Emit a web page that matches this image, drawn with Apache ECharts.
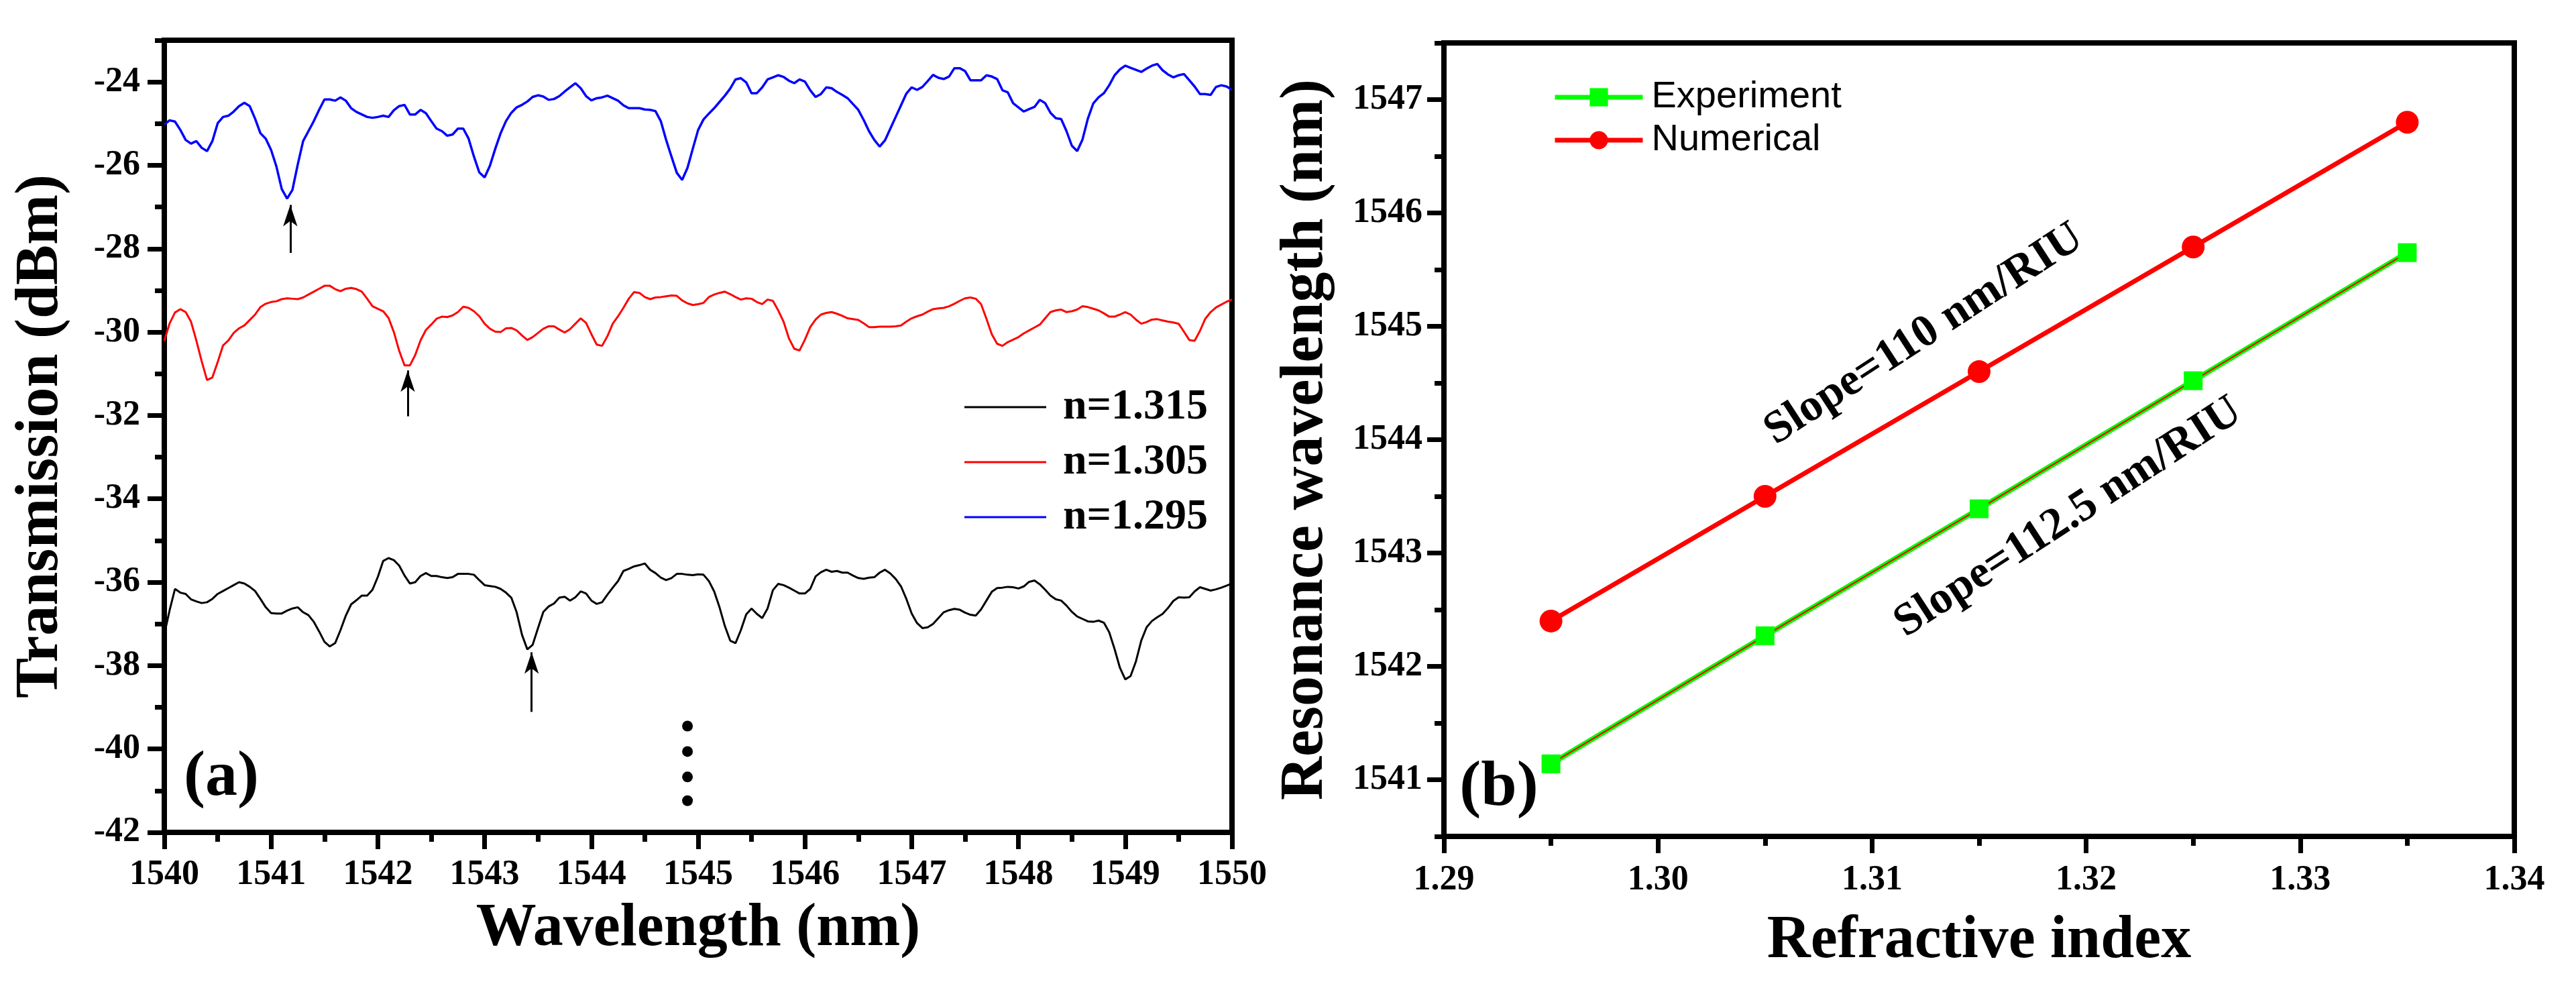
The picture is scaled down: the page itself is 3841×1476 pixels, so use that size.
<!DOCTYPE html>
<html>
<head>
<meta charset="utf-8">
<title>Transmission spectra and resonance shift</title>
<script src="https://cdn.jsdelivr.net/npm/echarts@6.0.0/dist/echarts.min.js"></script>
<style>
  html, body { margin: 0; padding: 0; background: #fff; }
  #chart { width: 3841px; height: 1476px; }
</style>
</head>
<body>
<div id="chart"></div>
<script>
// (a) spectra, sampled every 0.05 nm from 1540 nm
var wavelengthStart = 1540;
var wavelengthStep = 0.05;

var spectrum1315 = [
  -37.25,-36.67,-36.16,-36.25,-36.28,-36.41,-36.46,-36.50,-36.48,-36.40,
  -36.28,-36.21,-36.14,-36.07,-36.00,-36.03,-36.11,-36.21,-36.40,-36.60,
  -36.74,-36.75,-36.75,-36.68,-36.63,-36.60,-36.72,-36.79,-36.95,-37.18,
  -37.43,-37.54,-37.46,-37.15,-36.80,-36.53,-36.43,-36.32,-36.32,-36.18,
  -35.87,-35.49,-35.42,-35.47,-35.60,-35.84,-36.03,-36.00,-35.85,-35.78,
  -35.85,-35.85,-35.88,-35.90,-35.88,-35.80,-35.80,-35.80,-35.82,-35.95,
  -36.07,-36.09,-36.11,-36.16,-36.25,-36.37,-36.72,-37.26,-37.61,-37.50,
  -37.10,-36.71,-36.58,-36.51,-36.37,-36.35,-36.44,-36.36,-36.22,-36.27,
  -36.44,-36.52,-36.48,-36.30,-36.13,-35.97,-35.73,-35.68,-35.62,-35.59,
  -35.55,-35.70,-35.78,-35.89,-35.95,-35.90,-35.80,-35.80,-35.82,-35.83,
  -35.81,-35.82,-35.97,-36.22,-36.60,-37.05,-37.40,-37.46,-37.15,-36.77,
  -36.63,-36.76,-36.86,-36.63,-36.19,-36.04,-36.07,-36.13,-36.20,-36.27,
  -36.27,-36.16,-35.86,-35.76,-35.70,-35.75,-35.73,-35.77,-35.77,-35.84,
  -35.90,-35.92,-35.89,-35.88,-35.77,-35.70,-35.79,-35.92,-36.10,-36.40,
  -36.75,-36.98,-37.10,-37.08,-37.00,-36.86,-36.72,-36.67,-36.64,-36.66,
  -36.73,-36.78,-36.80,-36.65,-36.44,-36.23,-36.14,-36.13,-36.11,-36.12,
  -36.15,-36.10,-35.99,-35.96,-36.05,-36.18,-36.32,-36.41,-36.44,-36.56,
  -36.71,-36.82,-36.88,-36.94,-36.95,-36.92,-36.97,-37.20,-37.60,-38.05,
  -38.33,-38.25,-37.90,-37.40,-37.08,-36.93,-36.84,-36.76,-36.62,-36.45,
  -36.36,-36.37,-36.36,-36.22,-36.12,-36.16,-36.20,-36.17,-36.13,-36.08,
  -36.03
];

var spectrum1305 = [
  -30.21,-29.79,-29.53,-29.45,-29.52,-29.75,-30.20,-30.70,-31.15,-31.09,
  -30.72,-30.32,-30.20,-30.02,-29.91,-29.84,-29.71,-29.58,-29.40,-29.32,
  -29.28,-29.26,-29.21,-29.19,-29.20,-29.21,-29.17,-29.10,-29.03,-28.96,
  -28.89,-28.89,-28.97,-29.02,-28.96,-28.94,-28.97,-29.03,-29.20,-29.38,
  -29.44,-29.50,-29.66,-30.00,-30.45,-30.80,-30.80,-30.55,-30.20,-29.95,
  -29.82,-29.68,-29.63,-29.64,-29.60,-29.52,-29.39,-29.42,-29.50,-29.62,
  -29.80,-29.92,-29.99,-30.00,-29.91,-29.90,-29.96,-30.08,-30.19,-30.12,
  -30.02,-29.92,-29.86,-29.86,-29.94,-30.01,-29.93,-29.80,-29.67,-29.78,
  -30.05,-30.30,-30.33,-30.10,-29.80,-29.62,-29.42,-29.20,-29.04,-29.06,
  -29.16,-29.21,-29.17,-29.16,-29.14,-29.12,-29.13,-29.24,-29.31,-29.35,
  -29.33,-29.30,-29.16,-29.10,-29.06,-29.03,-29.09,-29.16,-29.22,-29.19,
  -29.20,-29.28,-29.33,-29.22,-29.25,-29.48,-29.75,-30.15,-30.40,-30.44,
  -30.18,-29.88,-29.70,-29.58,-29.54,-29.52,-29.56,-29.61,-29.67,-29.69,
  -29.71,-29.79,-29.88,-29.88,-29.87,-29.87,-29.87,-29.86,-29.84,-29.75,
  -29.67,-29.62,-29.58,-29.51,-29.45,-29.43,-29.42,-29.38,-29.32,-29.25,
  -29.19,-29.17,-29.20,-29.33,-29.68,-30.05,-30.28,-30.33,-30.24,-30.18,
  -30.12,-30.03,-29.96,-29.89,-29.82,-29.67,-29.52,-29.48,-29.46,-29.52,
  -29.50,-29.46,-29.38,-29.40,-29.44,-29.48,-29.55,-29.63,-29.63,-29.58,
  -29.52,-29.58,-29.70,-29.80,-29.76,-29.70,-29.69,-29.72,-29.75,-29.77,
  -29.80,-29.99,-30.19,-30.21,-29.97,-29.68,-29.52,-29.41,-29.34,-29.27,
  -29.22
];

var spectrum1295 = [
  -25.02,-24.92,-24.95,-25.15,-25.39,-25.48,-25.42,-25.58,-25.66,-25.42,
  -24.99,-24.84,-24.81,-24.71,-24.58,-24.50,-24.58,-24.88,-25.23,-25.36,
  -25.63,-26.03,-26.57,-26.80,-26.59,-25.98,-25.42,-25.18,-24.94,-24.67,
  -24.42,-24.42,-24.45,-24.37,-24.45,-24.63,-24.72,-24.78,-24.84,-24.86,
  -24.84,-24.81,-24.84,-24.68,-24.58,-24.55,-24.78,-24.78,-24.67,-24.75,
  -24.94,-25.12,-25.18,-25.29,-25.26,-25.12,-25.12,-25.36,-25.79,-26.17,
  -26.29,-26.01,-25.60,-25.23,-24.94,-24.74,-24.61,-24.55,-24.47,-24.36,
  -24.32,-24.35,-24.43,-24.41,-24.34,-24.23,-24.13,-24.03,-24.15,-24.34,
  -24.44,-24.39,-24.37,-24.33,-24.39,-24.45,-24.56,-24.63,-24.63,-24.63,
  -24.66,-24.67,-24.70,-24.94,-25.39,-25.79,-26.18,-26.35,-26.06,-25.60,
  -25.15,-24.90,-24.76,-24.63,-24.48,-24.33,-24.16,-23.94,-23.91,-24.01,
  -24.27,-24.27,-24.13,-23.94,-23.89,-23.84,-23.88,-23.97,-24.03,-23.94,
  -23.99,-24.20,-24.36,-24.29,-24.13,-24.15,-24.24,-24.31,-24.39,-24.53,
  -24.67,-24.91,-25.18,-25.39,-25.55,-25.40,-25.12,-24.84,-24.56,-24.28,
  -24.13,-24.19,-24.12,-23.98,-23.83,-23.90,-23.93,-23.87,-23.67,-23.67,
  -23.74,-23.96,-23.96,-23.96,-23.84,-23.87,-23.93,-24.20,-24.25,-24.51,
  -24.61,-24.71,-24.65,-24.60,-24.43,-24.51,-24.74,-24.87,-24.89,-25.18,
  -25.53,-25.66,-25.38,-24.88,-24.52,-24.37,-24.27,-24.08,-23.84,-23.70,
  -23.61,-23.66,-23.71,-23.76,-23.68,-23.61,-23.57,-23.72,-23.82,-23.89,
  -23.84,-23.81,-23.96,-24.11,-24.29,-24.29,-24.31,-24.12,-24.08,-24.11,
  -24.19
];

// arrows pointing at the tracked dips (x, tail, tip)
var arrowWavelength = [1541.18, 1542.28, 1543.44];
var arrowTail = [-28.10, -32.02, -39.11];
var arrowTip = [-26.95, -30.92, -37.68];

// vertical ellipsis under the curves
var dotWavelength = 1544.90;
var dotLevels = [-39.45, -40.06, -40.67, -41.24];

var transmissionLabels = [-42, -40, -38, -36, -34, -32, -30, -28, -26, -24];

// (b) resonance wavelength vs refractive index
var refractiveIndex = [1.295, 1.305, 1.315, 1.325, 1.335];
var experimentWl = [1541.14, 1542.27, 1543.39, 1544.52, 1545.65];
var numericalWl = [1542.40, 1543.50, 1544.60, 1545.70, 1546.80];
var resonanceLabels = [1541, 1542, 1543, 1544, 1545, 1546, 1547];

var serif = '"Liberation Serif", "Times New Roman", serif';
var sans = '"Liberation Sans", Arial, sans-serif';

function toPairs(values) {
  return values.map(function (v, i) {
    return [+(wavelengthStart + i * wavelengthStep).toFixed(2), v];
  });
}
function zip(xs, ys) {
  return xs.map(function (x, i) { return [x, ys[i]]; });
}
function plain(v) { return String(v); }

var tickFont = { color: '#000', fontFamily: serif, fontWeight: 'bold', fontSize: 52 };
var titleFont = { color: '#000', fontFamily: serif, fontWeight: 'bold', fontSize: 90 };
var axisLine = { show: true, onZero: false, lineStyle: { color: '#000', width: 8 } };
var majorTick = { color: '#000', width: 7 };

var chart = echarts.init(document.getElementById('chart'), null, { renderer: 'canvas' });

var option = {
  backgroundColor: '#fff',
  animation: false,
  grid: [
    { left: 245, top: 60, width: 1592, height: 1181, show: true, borderColor: '#000', borderWidth: 8 },
    { left: 2153, top: 64, width: 1596, height: 1183, show: true, borderColor: '#000', borderWidth: 8 }
  ],
  legend: [
    {
      data: ['n=1.315', 'n=1.305', 'n=1.295'],
      orient: 'vertical',
      left: 1433, top: 570,
      icon: 'rect',
      itemWidth: 122, itemHeight: 3, itemGap: 18,
      textStyle: { color: '#000', fontFamily: serif, fontWeight: 'bold', fontSize: 64, padding: [0, 0, 0, 20] }
    },
    {
      data: ['Experiment', 'Numerical'],
      orient: 'vertical',
      left: 2310, top: 112,
      itemWidth: 131, itemHeight: 34, itemGap: 8,
      lineStyle: { width: 7 },
      textStyle: { color: '#000', fontFamily: sans, fontSize: 56, padding: [0, 0, 0, 8] }
    }
  ],
  xAxis: [
    {
      gridIndex: 0, type: 'value', min: 1540, max: 1550, interval: 1,
      axisLine: axisLine,
      axisTick: { show: true, length: 25, lineStyle: majorTick },
      minorTick: { show: true, splitNumber: 2, length: 14, lineStyle: majorTick },
      axisLabel: Object.assign({ margin: 38, formatter: plain }, tickFont),
      splitLine: { show: false },
      name: 'Wavelength (nm)', nameLocation: 'middle', nameGap: 100, nameTextStyle: titleFont
    },
    {
      gridIndex: 1, type: 'value', min: 1.29, max: 1.34, interval: 0.01,
      axisLine: axisLine,
      axisTick: { show: true, length: 25, lineStyle: majorTick },
      minorTick: { show: true, splitNumber: 2, length: 14, lineStyle: majorTick },
      axisLabel: Object.assign({ margin: 40, formatter: function (v) { return v.toFixed(2); } }, tickFont),
      splitLine: { show: false },
      name: 'Refractive index', nameLocation: 'middle', nameGap: 112, nameTextStyle: titleFont
    }
  ],
  yAxis: [
    {
      gridIndex: 0, type: 'value', position: 'left', min: -42, max: -23, interval: 1,
      axisLine: axisLine,
      axisTick: { show: true, length: 25, customValues: transmissionLabels, lineStyle: majorTick },
      axisLabel: Object.assign({ margin: 36, customValues: transmissionLabels, formatter: plain }, tickFont),
      splitLine: { show: false },
      name: 'Transmission (dBm)', nameLocation: 'middle', nameGap: 138, nameTextStyle: titleFont
    },
    {
      gridIndex: 1, type: 'value', position: 'left', min: 1540.5, max: 1547.5, interval: 0.5,
      axisLine: axisLine,
      axisTick: { show: true, length: 25, customValues: resonanceLabels, lineStyle: majorTick },
      axisLabel: Object.assign({ margin: 32, customValues: resonanceLabels, formatter: plain }, tickFont),
      splitLine: { show: false },
      name: 'Resonance wavelength (nm)', nameLocation: 'middle', nameGap: 160, nameTextStyle: titleFont
    },
    // short ticks at the odd dBm values
    {
      gridIndex: 0, type: 'value', position: 'left', min: -42, max: -23, interval: 1,
      axisLine: { show: false }, axisLabel: { show: false }, splitLine: { show: false },
      axisTick: { show: true, length: 14, lineStyle: majorTick }
    },
    // short ticks at the half nm values
    {
      gridIndex: 1, type: 'value', position: 'left', min: 1540.5, max: 1547.5, interval: 0.5,
      axisLine: { show: false }, axisLabel: { show: false }, splitLine: { show: false },
      axisTick: { show: true, length: 14, lineStyle: majorTick }
    }
  ],
  series: [
    {
      name: 'n=1.315', type: 'line', xAxisIndex: 0, yAxisIndex: 0,
      data: toPairs(spectrum1315), showSymbol: false, symbol: 'none',
      lineStyle: { color: '#000', width: 3 }, itemStyle: { color: '#000' }
    },
    {
      name: 'n=1.305', type: 'line', xAxisIndex: 0, yAxisIndex: 0,
      data: toPairs(spectrum1305), showSymbol: false, symbol: 'none',
      lineStyle: { color: '#ff0000', width: 3 }, itemStyle: { color: '#ff0000' }
    },
    {
      name: 'n=1.295', type: 'line', xAxisIndex: 0, yAxisIndex: 0,
      data: toPairs(spectrum1295), showSymbol: false, symbol: 'none',
      lineStyle: { color: '#0000ff', width: 3.5 }, itemStyle: { color: '#0000ff' }
    },
    {
      name: 'dots', type: 'scatter', xAxisIndex: 0, yAxisIndex: 0,
      data: dotLevels.map(function (y) { return [dotWavelength, y]; }),
      symbol: 'circle', symbolSize: 16, itemStyle: { color: '#000', opacity: 1 }, silent: true
    },
    {
      name: 'arrows', type: 'line', xAxisIndex: 0, yAxisIndex: 0, data: [],
      markLine: {
        silent: true, animation: false,
        symbol: ['none', 'arrow'], symbolSize: [16, 32],
        label: { show: false },
        lineStyle: { color: '#000', width: 3, type: 'solid' },
        data: arrowWavelength.map(function (x, i) {
          return [{ coord: [x, arrowTail[i]] }, { coord: [x, arrowTip[i]] }];
        })
      }
    },
    {
      name: 'Experiment', type: 'line', xAxisIndex: 1, yAxisIndex: 1,
      data: zip(refractiveIndex, experimentWl),
      symbol: 'rect', symbolSize: 28,
      lineStyle: { color: '#00ff00', width: 8 }, itemStyle: { color: '#00ff00' }
    },
    {
      name: 'fit', type: 'line', xAxisIndex: 1, yAxisIndex: 1,
      data: zip(refractiveIndex, experimentWl), showSymbol: false, symbol: 'none',
      lineStyle: { color: '#ff0000', width: 2 }, silent: true
    },
    {
      name: 'Numerical', type: 'line', xAxisIndex: 1, yAxisIndex: 1,
      data: zip(refractiveIndex, numericalWl),
      symbol: 'circle', symbolSize: 34,
      lineStyle: { color: '#ff0000', width: 7 }, itemStyle: { color: '#ff0000' }
    }
  ],
  graphic: [
    { type: 'text', x: 330, y: 1160, style: { text: '(a)', fontFamily: serif, fontWeight: 'bold', fontSize: 96, fill: '#000', align: 'center', verticalAlign: 'middle' } },
    { type: 'text', x: 2235, y: 1175, style: { text: '(b)', fontFamily: serif, fontWeight: 'bold', fontSize: 96, fill: '#000', align: 'center', verticalAlign: 'middle' } },
    { type: 'text', x: 2869, y: 499, rotation: 33 * Math.PI / 180, style: { text: 'Slope=110 nm/RIU', fontFamily: serif, fontWeight: 'bold', fontSize: 68, fill: '#000', align: 'center', verticalAlign: 'middle' } },
    { type: 'text', x: 3084, y: 772, rotation: 33 * Math.PI / 180, style: { text: 'Slope=112.5 nm/RIU', fontFamily: serif, fontWeight: 'bold', fontSize: 68, fill: '#000', align: 'center', verticalAlign: 'middle' } }
  ]
};

chart.setOption(option);
</script>
</body>
</html>
